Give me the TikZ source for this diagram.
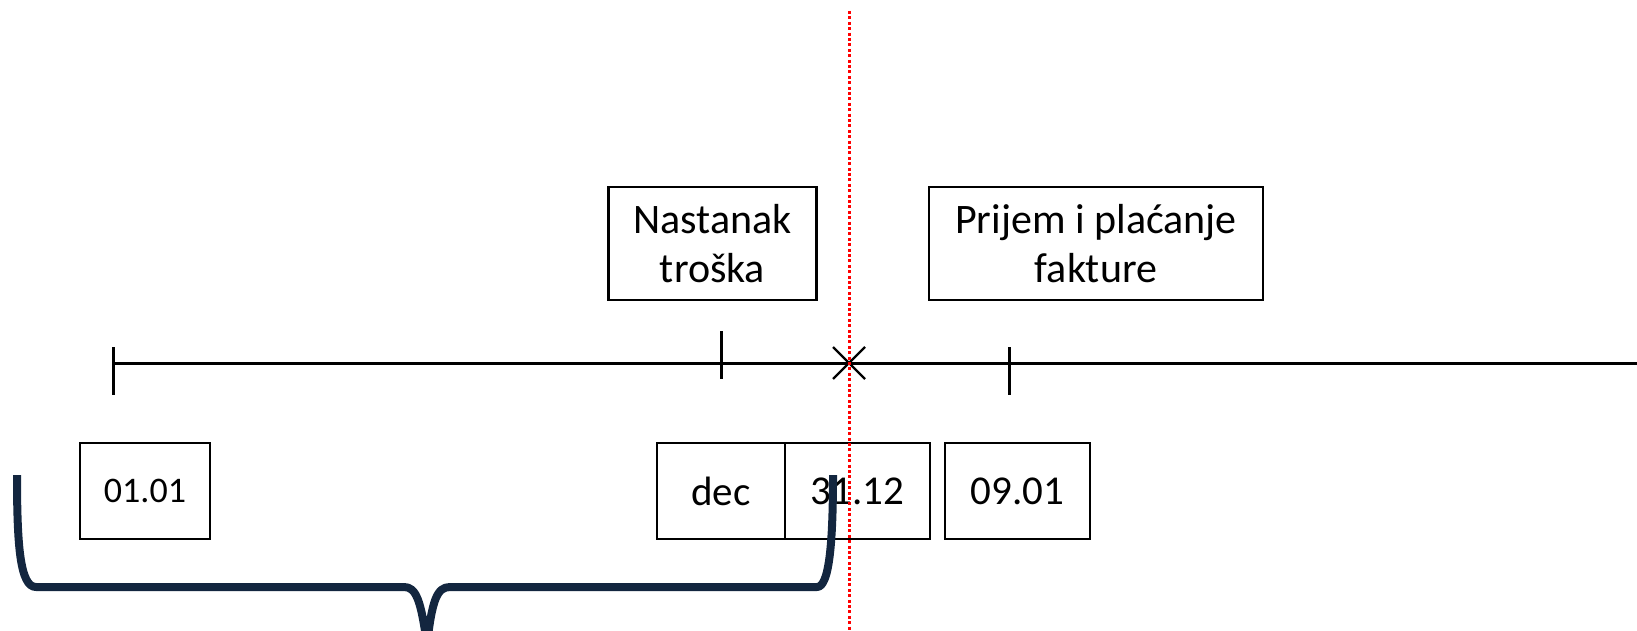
\documentclass[tikz,border=0pt]{standalone}
\usepackage{fontspec}
\setmainfont{Carlito}
\definecolor{bracenavy}{HTML}{13263F}
\definecolor{guidered}{HTML}{FF0000}
\begin{document}
\begin{tikzpicture}[x=1pt,y=-1pt,
  datebox/.style={draw=black, line width=2.5pt, inner sep=0pt, minimum height=96pt, align=center},
  eventbox/.style={draw=black, line width=2.5pt, inner sep=0pt, minimum height=113pt, align=center, font=\fontsize{42}{49}\selectfont},
  axisline/.style={draw=black, line width=3pt},
  tickmark/.style={draw=black, line width=3pt},
  bracepath/.style={draw=bracenavy, line width=8pt, line cap=butt, line join=round},
  guideline/.style={draw=guidered, line width=3pt, dash pattern=on 3pt off 2.4pt}
]
\useasboundingbox (0,0) rectangle (1637,631);

% event boxes
\node[eventbox, minimum width=208pt] (cost) at (712.5,243.5) {Nastanak\\troška};
\node[eventbox, minimum width=334pt] (invoice) at (1096,243.5) {Prijem i plaćanje\\fakture};

% date boxes
\node[datebox, minimum width=130pt, font=\fontsize{36}{40}\selectfont] (d0101) at (145,491) {01.01};
\node[datebox, minimum width=128pt, font=\fontsize{41}{45}\selectfont] (ddec) at (721,491) {dec};
\node[datebox, minimum width=145pt, font=\fontsize{41}{45}\selectfont] (d3112) at (857.5,491) {31.12};
\node[datebox, minimum width=145pt, font=\fontsize{41}{45}\selectfont] (d0901) at (1017.5,491) {09.01};

% timeline
\coordinate (tstart) at (113,363);
\coordinate (tend) at (1640,363);
\coordinate (tcost) at (721,363);
\coordinate (tcut) at (849,363);
\coordinate (tpay) at (1009,363);
\draw[axisline] (tstart) -- (tend);
\draw[tickmark] (113,347) -- (113,395);
\draw[tickmark] (721,331) -- (721,379);
\draw[tickmark] (1009,347) -- (1009,395);
\draw[black, line width=2.2pt] ([shift={(-16,-16)}]tcut) -- ([shift={(16,16)}]tcut);
\draw[black, line width=2.2pt] ([shift={(-16,16)}]tcut) -- ([shift={(16,-16)}]tcut);

% brace
\coordinate (bl) at (17,475);
\coordinate (br) at (833,475);
\coordinate (btip) at (427,645);
\begin{scope}
\clip (0,0) rectangle (1637,631);
\draw[bracepath] (bl) .. controls (17,545) and (20,587) .. (36,587)
  -- (404,587) .. controls (416,587) and (421,600) .. (btip)
  .. controls (432,600) and (437,587) .. (450,587)
  -- (817,587) .. controls (829,587) and (833,545) .. (br);
\end{scope}

% red guide line
\coordinate (gtop) at (849,11);
\coordinate (gbot) at (849,631);
\draw[guideline] (gtop) -- (gbot);
\end{tikzpicture}
\end{document}
